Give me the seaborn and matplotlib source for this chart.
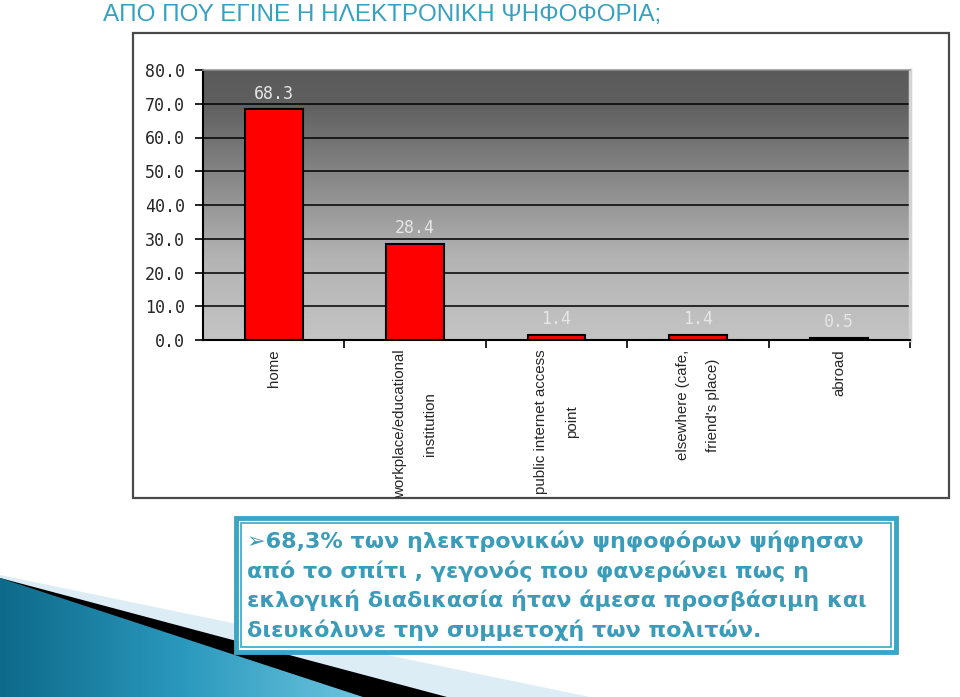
import numpy as np
import pandas as pd
import matplotlib
matplotlib.use("Agg")
import matplotlib.pyplot as plt
import seaborn as sns
from matplotlib.colors import LinearSegmentedColormap
from matplotlib.patches import Rectangle, Polygon

# chart data
places = ["home", "workplace/educational\ninstitution", "public internet access\npoint",
          "elsewhere (cafe,\nfriend's place)", "abroad"]
share = [68.3, 28.4, 1.4, 1.4, 0.5]
y_ticks = [0, 10, 20, 30, 40, 50, 60, 70, 80]

title = "ΑΠΟ ΠΟΥ ΕΓΙΝΕ Η ΗΛΕΚΤΡΟΝΙΚΗ ΨΗΦΟΦΟΡΙΑ;"
note = ("➢68,3% των ηλεκτρονικών ψηφοφόρων ψήφησαν\n"
        "από το σπίτι , γεγονός που φανερώνει πως η\n"
        "εκλογική διαδικασία ήταν άμεσα προσβάσιμη και\n"
        "διευκόλυνε την συμμετοχή των πολιτών.")

df = pd.DataFrame({"place": places, "share": share})

sns.set_theme(style="white")
plt.rcParams["font.family"] = ["DejaVu Sans"]
arial = ["Liberation Sans", "DejaVu Sans"]

fig = plt.figure(figsize=(9.6, 6.97), dpi=100)

# slide background in pixel coordinates
bg = fig.add_axes([0, 0, 1, 1])
bg.set_xlim(0, 960)
bg.set_ylim(697, 0)
bg.axis("off")

# picture frame of the chart
bg.add_patch(Rectangle((133, 33), 816, 465, fc="white", ec="#4a4a4a", lw=1.6))

# decorative swoosh, bottom left
bg.add_patch(Polygon([(0, 575), (590, 697), (0, 697)], closed=True, fc="#dcedf5", ec="none", zorder=1))
bg.add_patch(Polygon([(0, 578), (447, 697), (0, 697)], closed=True, fc="black", ec="none", zorder=2))
blue = Polygon([(0, 578), (363, 697), (0, 697)], closed=True, fc="none", ec="none", zorder=3)
bg.add_patch(blue)
swoosh = LinearSegmentedColormap.from_list("sw", ["#0e6a8a", "#2a98bd", "#6cc4de"])
im = bg.imshow(np.linspace(0, 1, 200).reshape(1, -1), extent=[0, 363, 697, 578],
               cmap=swoosh, aspect="auto", zorder=3)
im.set_clip_path(blue)

# title
bg.text(103, 21, title, color="#36a1c1", fontsize=17.5, family=arial, va="baseline", ha="left")

# text box
bg.add_patch(Rectangle((236, 518), 660, 134, fc="white", ec="#3aa6c4", lw=3.5, zorder=5))
bg.add_patch(Rectangle((241, 523), 650, 124, fc="none", ec="#3aa6c4", lw=1.2, zorder=5))
bg.text(247, 531, note, color="#3a9cb8", fontsize=16, fontweight="bold",
        va="top", ha="left", linespacing=1.45, zorder=6)

bg.set_xlim(0, 960)
bg.set_ylim(697, 0)

# the bar chart
ax = fig.add_axes([203 / 960, 1 - 340 / 697, 707 / 960, 270 / 697])
sns.barplot(data=df, x="place", y="share", color="#ff0000", saturation=1,
            edgecolor="black", linewidth=1.5, width=0.41, ax=ax, zorder=2)

grey = LinearSegmentedColormap.from_list(
    "plot", [(0, "#5a5a5a"), (0.13, "#606060"), (0.7, "#b4b4b4"), (1, "#c4c4c4")])
ax.imshow(np.linspace(0, 1, 256).reshape(-1, 1), extent=[-0.5, 4.5, 0, 80],
          aspect="auto", cmap=grey, zorder=0)

ax.set_xlim(-0.5, 4.5)
ax.set_ylim(0, 80)
ax.set_axisbelow(True)
ax.yaxis.grid(True, color="black", lw=1.1)
ax.xaxis.grid(False)
ax.set_xlabel("")
ax.set_ylabel("")

ax.set_yticks(y_ticks)
ax.set_yticklabels([f"{t:.1f}" for t in y_ticks], family="DejaVu Sans Mono", fontsize=12)
ax.tick_params(axis="y", left=True, length=6, width=1.2, color="black", direction="out", pad=7)

ax.set_xticks(range(len(places)))
ax.set_xticklabels(places, rotation=90, fontsize=10.8, linespacing=2.5, family=arial)
ax.tick_params(axis="x", which="major", length=0, pad=7)
ax.set_xticks([0.5, 1.5, 2.5, 3.5, 4.5], minor=True)
ax.tick_params(axis="x", which="minor", bottom=True, length=6, width=1.2,
               color="black", direction="out")

ax.bar_label(ax.containers[0], labels=[f"{v:.1f}" for v in share], padding=5,
             color="#e6e6e6", fontsize=12, family="DejaVu Sans Mono")

for side in ["left", "bottom"]:
    ax.spines[side].set_color("black")
    ax.spines[side].set_linewidth(1.5)
ax.spines["top"].set_color("#9a9a9a")
ax.spines["top"].set_linewidth(1.2)
ax.spines["right"].set_color("#d4d4d4")
ax.spines["right"].set_linewidth(2.5)

fig.savefig("out.png", dpi=100)
